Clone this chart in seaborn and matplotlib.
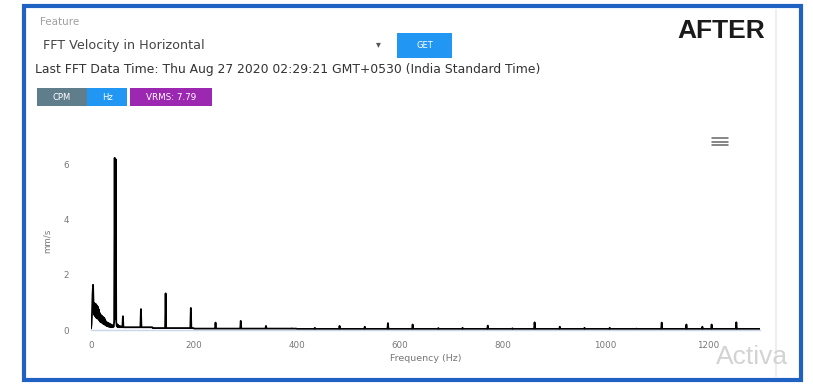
import numpy as np
import pandas as pd
import matplotlib
matplotlib.use("Agg")
import matplotlib.pyplot as plt
import seaborn as sns
from matplotlib.patches import Rectangle
from matplotlib.lines import Line2D

# ---------------- data ----------------
# dense low-frequency part, 1 Hz steps from 0 to 60 Hz (mm/s)
low_freq_hz = list(range(0, 61))
low_amp = [0.05, 0.2, 0.6, 1.3, 1.64, 0.9, 0.55, 0.97, 0.5, 0.95,
           0.45, 0.9, 0.42, 0.85, 0.4, 0.75, 0.35, 0.62, 0.3, 0.55,
           0.28, 0.52, 0.25, 0.48, 0.22, 0.45, 0.2, 0.4, 0.18, 0.32,
           0.15, 0.28, 0.14, 0.26, 0.12, 0.24, 0.12, 0.22, 0.1, 0.2,
           0.1, 0.18, 0.1, 0.16, 0.12, 0.3, 6.25, 0.4, 6.2, 0.3,
           0.15, 0.12, 0.2, 0.1, 0.15, 0.1, 0.14, 0.1, 0.13, 0.1, 0.12]

# discrete peaks above 60 Hz
peak_hz = [62, 97, 145, 194, 242, 291, 340, 390, 435, 483, 532, 577, 625,
           675, 722, 771, 819, 862, 911, 959, 1008, 1060, 1109, 1157,
           1188, 1206, 1254]
peak_amp = [0.5, 0.76, 1.33, 0.8, 0.27, 0.33, 0.15, 0.06, 0.08, 0.15, 0.12,
            0.25, 0.2, 0.07, 0.08, 0.16, 0.06, 0.28, 0.12, 0.08, 0.08, 0.05,
            0.27, 0.2, 0.12, 0.2, 0.28]

# noise floor levels (start Hz, level)
floor_start_hz = [61, 120, 200, 400]
floor_level = [0.1, 0.07, 0.05, 0.04]
max_hz = 1300

x_ticks = [0, 200, 400, 600, 800, 1000, 1200]
y_ticks = [0, 2, 4, 6]

# ---------------- build table ----------------
freq = np.arange(0, max_hz + 1)
amp = np.zeros(len(freq))
for i, f0 in enumerate(floor_start_hz):
    amp[freq >= f0] = floor_level[i]
amp[:len(low_amp)] = low_amp
for f0, a in zip(peak_hz, peak_amp):
    amp[f0] = a
df = pd.DataFrame({"freq": freq, "amp": amp})

# ---------------- figure ----------------
sns.set_theme(style="white")
plt.rcParams["font.family"] = ["DejaVu Sans"]

W, H = 813, 387
fig = plt.figure(figsize=(W / 100, H / 100), dpi=100)
fig.patch.set_facecolor("white")


def fx(x):
    return x / W


def fy(y):
    return 1 - y / H


def rect(x0, y0, x1, y1, **kw):
    r = Rectangle((fx(x0), fy(y1)), fx(x1) - fx(x0), fy(y0) - fy(y1),
                  transform=fig.transFigure, **kw)
    fig.add_artist(r)
    return r


# blue frame and faint card edge
rect(24, 6, 801, 380, fill=False, edgecolor="#1f62c4", linewidth=3.0)
fig.add_artist(Line2D([fx(776), fx(776)], [fy(10), fy(376)],
                      transform=fig.transFigure, color="#eeeeee", lw=1.5))

# header UI
fig.text(fx(40), fy(22), "Feature", fontsize=7.5, color="#a0a0a0",
         va="center", ha="left")
fig.text(fx(43), fy(45), "FFT Velocity in Horizontal", fontsize=9.2,
         color="#444444", va="center", ha="left")
fig.text(fx(378), fy(44), "\u25BE", fontsize=7, color="#555555",
         va="center", ha="center")
rect(397, 33, 452, 58, facecolor="#2196f3", edgecolor="none")
fig.text(fx(424.5), fy(45.5), "GET", fontsize=6, color="white",
         va="center", ha="center")
fig.text(fx(35), fy(69),
         "Last FFT Data Time: Thu Aug 27 2020 02:29:21 GMT+0530 (India Standard Time)",
         fontsize=8.9, color="#333333", va="center", ha="left")

rect(37, 88, 87, 106, facecolor="#607d8b", edgecolor="none")
rect(87, 88, 127, 106, facecolor="#2196f3", edgecolor="none")
rect(130, 88, 212, 106, facecolor="#9c27b0", edgecolor="none")
fig.text(fx(62), fy(97), "CPM", fontsize=6, color="white", va="center", ha="center")
fig.text(fx(107), fy(97), "Hz", fontsize=6, color="white", va="center", ha="center")
fig.text(fx(171), fy(97), "VRMS: 7.79", fontsize=6.3, color="white",
         va="center", ha="center")

fig.text(fx(721), fy(31), "AFTER", fontsize=19, fontweight="bold",
         family="Liberation Sans", color="#1a1a1a", va="center", ha="center")

# hamburger menu
for yy in (138, 141.5, 145):
    fig.add_artist(Line2D([fx(712), fx(728)], [fy(yy), fy(yy)],
                          transform=fig.transFigure, color="#666666", lw=1.1))

# watermark
fig.text(fx(716), fy(357), "Activa", fontsize=19, color="#d3d3d3",
         va="center", ha="left", family="Liberation Sans")

# chart
ax = fig.add_axes([fx(91), fy(330), fx(760) - fx(91), fy(151) - fy(330)])
sns.lineplot(data=df, x="freq", y="amp", ax=ax, color="black",
             linewidth=1.3, estimator=None)
ax.set_xlim(0, max_hz)
ax.set_ylim(0, 6.5)
ax.set_xticks(x_ticks)
ax.set_xticklabels([str(t) for t in x_ticks])
ax.set_yticks(y_ticks)
ax.set_yticklabels([str(t) for t in y_ticks])
for s in ("top", "right", "left"):
    ax.spines[s].set_visible(False)
ax.spines["bottom"].set_color("#ccd6eb")
ax.spines["bottom"].set_linewidth(1.0)
ax.tick_params(axis="x", length=0, pad=8, labelsize=6.3, labelcolor="#777777")
ax.tick_params(axis="y", length=0, pad=16, labelsize=6.3, labelcolor="#777777")
ax.set_xlabel("Frequency (Hz)", fontsize=6.8, color="#777777", labelpad=3)
ax.set_ylabel("mm/s", fontsize=6.3, color="#777777", labelpad=8)
ax.set_facecolor("none")

fig.savefig("out.png", dpi=100, facecolor="white")
